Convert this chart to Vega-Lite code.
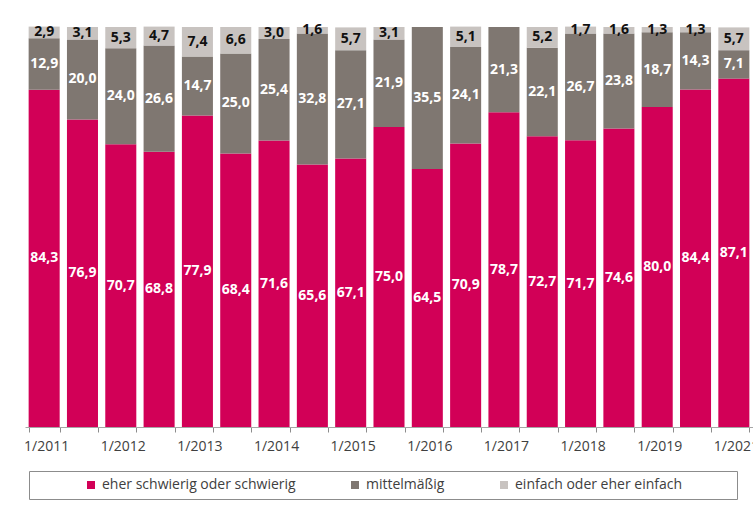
{
  "$schema": "https://vega.github.io/schema/vega-lite/v6.json",
  "width": 728,
  "height": 400,
  "padding": {"left": 23, "top": 22, "right": 0, "bottom": 0},
  "config": {
    "view": {"stroke": null},
    "locale": {"number": {"decimal": ",", "thousands": ".", "grouping": [3], "currency": ["", " €"]}},
    "font": "Open Sans"
  },
  "data": {
    "values": [
      {"period": "1/2011", "category": "eher schwierig oder schwierig", "value": 84.3},
      {"period": "1/2011", "category": "mittelmäßig", "value": 12.9},
      {"period": "1/2011", "category": "einfach oder eher einfach", "value": 2.9},
      {"period": "2/2011", "category": "eher schwierig oder schwierig", "value": 76.9},
      {"period": "2/2011", "category": "mittelmäßig", "value": 20.0},
      {"period": "2/2011", "category": "einfach oder eher einfach", "value": 3.1},
      {"period": "1/2012", "category": "eher schwierig oder schwierig", "value": 70.7},
      {"period": "1/2012", "category": "mittelmäßig", "value": 24.0},
      {"period": "1/2012", "category": "einfach oder eher einfach", "value": 5.3},
      {"period": "2/2012", "category": "eher schwierig oder schwierig", "value": 68.8},
      {"period": "2/2012", "category": "mittelmäßig", "value": 26.6},
      {"period": "2/2012", "category": "einfach oder eher einfach", "value": 4.7},
      {"period": "1/2013", "category": "eher schwierig oder schwierig", "value": 77.9},
      {"period": "1/2013", "category": "mittelmäßig", "value": 14.7},
      {"period": "1/2013", "category": "einfach oder eher einfach", "value": 7.4},
      {"period": "2/2013", "category": "eher schwierig oder schwierig", "value": 68.4},
      {"period": "2/2013", "category": "mittelmäßig", "value": 25.0},
      {"period": "2/2013", "category": "einfach oder eher einfach", "value": 6.6},
      {"period": "1/2014", "category": "eher schwierig oder schwierig", "value": 71.6},
      {"period": "1/2014", "category": "mittelmäßig", "value": 25.4},
      {"period": "1/2014", "category": "einfach oder eher einfach", "value": 3.0},
      {"period": "2/2014", "category": "eher schwierig oder schwierig", "value": 65.6},
      {"period": "2/2014", "category": "mittelmäßig", "value": 32.8},
      {"period": "2/2014", "category": "einfach oder eher einfach", "value": 1.6},
      {"period": "1/2015", "category": "eher schwierig oder schwierig", "value": 67.1},
      {"period": "1/2015", "category": "mittelmäßig", "value": 27.1},
      {"period": "1/2015", "category": "einfach oder eher einfach", "value": 5.7},
      {"period": "2/2015", "category": "eher schwierig oder schwierig", "value": 75.0},
      {"period": "2/2015", "category": "mittelmäßig", "value": 21.9},
      {"period": "2/2015", "category": "einfach oder eher einfach", "value": 3.1},
      {"period": "1/2016", "category": "eher schwierig oder schwierig", "value": 64.5},
      {"period": "1/2016", "category": "mittelmäßig", "value": 35.5},
      {"period": "2/2016", "category": "eher schwierig oder schwierig", "value": 70.9},
      {"period": "2/2016", "category": "mittelmäßig", "value": 24.1},
      {"period": "2/2016", "category": "einfach oder eher einfach", "value": 5.1},
      {"period": "1/2017", "category": "eher schwierig oder schwierig", "value": 78.7},
      {"period": "1/2017", "category": "mittelmäßig", "value": 21.3},
      {"period": "2/2017", "category": "eher schwierig oder schwierig", "value": 72.7},
      {"period": "2/2017", "category": "mittelmäßig", "value": 22.1},
      {"period": "2/2017", "category": "einfach oder eher einfach", "value": 5.2},
      {"period": "1/2018", "category": "eher schwierig oder schwierig", "value": 71.7},
      {"period": "1/2018", "category": "mittelmäßig", "value": 26.7},
      {"period": "1/2018", "category": "einfach oder eher einfach", "value": 1.7},
      {"period": "2/2018", "category": "eher schwierig oder schwierig", "value": 74.6},
      {"period": "2/2018", "category": "mittelmäßig", "value": 23.8},
      {"period": "2/2018", "category": "einfach oder eher einfach", "value": 1.6},
      {"period": "1/2019", "category": "eher schwierig oder schwierig", "value": 80.0},
      {"period": "1/2019", "category": "mittelmäßig", "value": 18.7},
      {"period": "1/2019", "category": "einfach oder eher einfach", "value": 1.3},
      {"period": "2/2020", "category": "eher schwierig oder schwierig", "value": 84.4},
      {"period": "2/2020", "category": "mittelmäßig", "value": 14.3},
      {"period": "2/2020", "category": "einfach oder eher einfach", "value": 1.3},
      {"period": "1/2021", "category": "eher schwierig oder schwierig", "value": 87.1},
      {"period": "1/2021", "category": "mittelmäßig", "value": 7.1},
      {"period": "1/2021", "category": "einfach oder eher einfach", "value": 5.7}
    ]
  },
  "transform": [
    {"calculate": "indexof(['eher schwierig oder schwierig','mittelmäßig','einfach oder eher einfach'], datum.category)", "as": "rank"},
    {"stack": "value", "groupby": ["period"], "sort": [{"field": "rank", "order": "ascending"}], "as": ["v0", "v1"]},
    {"calculate": "(datum.v0 + datum.v1) / 2", "as": "mid"}
  ],
  "encoding": {
    "x": {
      "field": "period",
      "type": "ordinal",
      "sort": null,
      "scale": {"paddingInner": 0.19, "paddingOuter": 0.095},
      "axis": {
        "title": null,
        "labelAngle": 0,
        "tickBand": "extent",
        "domainColor": "#a6a6a6",
        "tickColor": "#8c8c8c",
        "tickSize": 5,
        "labelFont": "Open Sans",
        "labelFontSize": 14,
        "labelColor": "#404040",
        "labelPadding": 7,
        "labelOffset": 2,
        "labelExpr": "substring(datum.value, 0, 2) == '1/' ? datum.label : ''"
      }
    }
  },
  "layer": [
    {
      "mark": {"type": "bar"},
      "encoding": {
        "y": {"field": "v0", "type": "quantitative", "scale": {"domain": [0, 100]}, "axis": null},
        "y2": {"field": "v1"},
        "color": {
          "field": "category",
          "type": "nominal",
          "scale": {
            "domain": ["eher schwierig oder schwierig", "mittelmäßig", "einfach oder eher einfach"],
            "range": ["#D20057", "#7F7771", "#C8C3C0"]
          },
          "legend": {
            "orient": "none",
            "legendX": 4,
            "legendY": 444,
            "direction": "horizontal",
            "title": "\u200b\u00a0\u00a0\u00a0\u00a0\u00a0\u00a0\u00a0\u00a0\u00a0\u00a0\u00a0\u00a0\u00a0\u200b",
            "titleOrient": "left",
            "titlePadding": 0,
            "titleFontSize": 14,
            "titleFont": "Open Sans",
            "strokeColor": "#8c8c8c",
            "padding": 7,
            "symbolType": "square",
            "symbolSize": 64,
            "symbolStrokeWidth": 0,
            "labelFont": "Open Sans",
            "labelFontSize": 14,
            "labelColor": "#404040",
            "labelLimit": 500,
            "labelOffset": 4,
            "columnPadding": 52,
            "labelExpr": "datum.label == 'einfach oder eher einfach' ? datum.label + '\u00a0\u00a0\u00a0\u00a0\u00a0\u00a0\u00a0\u00a0\u00a0\u00a0\u00a0\u00a0\u00a0\u200b' : datum.label"
          }
        }
      }
    },
    {
      "mark": {"type": "text", "font": "Open Sans", "fontSize": 14, "fontWeight": "bold", "baseline": "middle", "align": "center"},
      "encoding": {
        "y": {"field": "mid", "type": "quantitative", "scale": {"domain": [0, 100]}},
        "text": {"field": "value", "type": "quantitative", "format": ".1f"},
        "color": {
          "condition": {"test": "datum.category == 'einfach oder eher einfach'", "value": "#111111"},
          "value": "#ffffff"
        }
      }
    }
  ]
}
